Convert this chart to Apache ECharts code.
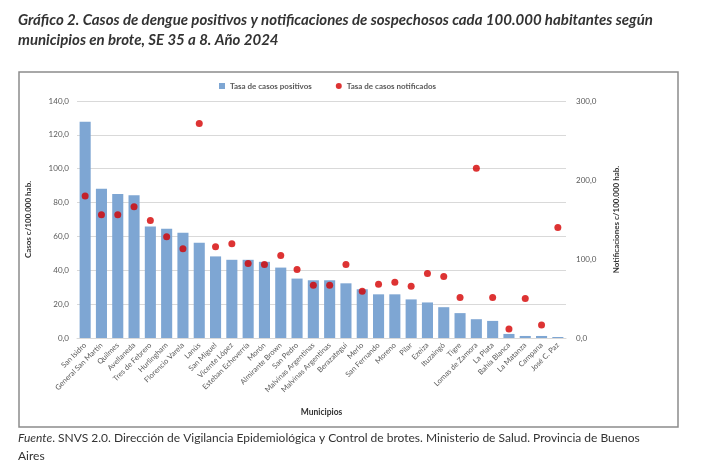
<!DOCTYPE html>
<html>
<head>
<meta charset="utf-8">
<script src="https://cdn.jsdelivr.net/npm/echarts@6/dist/echarts.min.js"></script>
<style>
html,body{margin:0;padding:0;background:#fff;}
#c{width:702px;height:471px;}
</style>
</head>
<body>
<div id="c"></div>
<script>
const municipios = ["San Isidro","General San Martín","Quilmes","Avellaneda","Tres de Febrero","Hurlingham","Florencio Varela","Lanús","San Miguel","Vicente López","Esteban Echeverría","Morón","Almirante Brown","San Pedro","Malvinas Argentinas","Malvinas Argentinas ","Berazategui","Merlo","San Fernando","Moreno","Pilar","Ezeiza","Ituzaingó","Tigre","Lomas de Zamora","La Plata","Bahía Blanca","La Matanza","Campana","José C. Paz"];
const tasaPositivos = [127.7,88.2,85.1,84.3,65.8,64.6,62.1,56.3,48.2,46.2,46.2,45.0,41.6,35.1,34.1,34.1,32.3,28.8,25.8,25.8,22.8,21.0,18.2,14.7,11.1,10.1,2.4,1.2,1.2,0.6];
const tasaNotificados = [179.8,156,156,166,148.7,128.3,113,271.6,115.6,119.4,94.3,93,104.5,86.7,66.7,66.7,93.1,59.1,68,70.5,65.4,81.6,77.8,51.4,215,51.4,11.5,50.1,16.6,139.8];
const leftTicks = {min:0,max:140,interval:20};
const rightTicks = {min:0,max:300,interval:100};

const FONT = "Lato, 'Open Sans', sans-serif";
const chart = echarts.init(document.getElementById('c'), null, {renderer:'canvas'});
const fmt = v => v.toFixed(1).replace('.', ',');
chart.setOption({
  animation:false,
  textStyle:{fontFamily:FONT},
  graphic:[
    {type:'rect',shape:{x:19,y:72,width:659,height:355},style:{fill:'none',stroke:'#8c8c8c',lineWidth:1.5},z:-1},
    {type:'text',left:18,top:13,style:{text:'Gráfico 2. Casos de dengue positivos y notificaciones de sospechosos cada 100.000 habitantes según',font:"italic bold 15px "+FONT,fill:'#333'}},
    {type:'text',left:18,top:33,style:{text:'municipios en brote, SE 35 a 8. Año 2024',font:"italic bold 15px "+FONT,fill:'#333'}},
    {type:'text',left:18,top:432,style:{
      rich:{i:{fontStyle:'italic',fontSize:12,fontFamily:FONT,fill:'#333'},n:{fontSize:12,fontFamily:FONT,fill:'#333'}},
      text:'{i|Fuente}{n|. SNVS 2.0. Dirección de Vigilancia Epidemiológica y Control de brotes. Ministerio de Salud. Provincia de Buenos}',fill:'#333'}},
    {type:'text',left:18,top:450,style:{text:'Aires',font:"12px "+FONT,fill:'#333'}}
  ],
  legend:{
    top:77,left:214,itemWidth:6,itemHeight:6,itemGap:24,
    textStyle:{fontSize:8,fontWeight:'bold',color:'#595959',fontFamily:FONT},
    data:[{name:'Tasa de casos positivos',icon:'rect'},{name:'Tasa de casos notificados',icon:'circle'}]
  },
  grid:{left:77,right:136,top:101,bottom:133},
  xAxis:{
    type:'category',data:municipios,
    axisTick:{show:false},
    axisLine:{lineStyle:{color:'#d9d9d9'}},
    axisLabel:{rotate:45,fontSize:7.5,color:'#595959',interval:0,margin:6,formatter:v=>v.trim()},
    name:'Municipios',nameLocation:'middle',nameGap:70,
    nameTextStyle:{fontSize:8.5,fontWeight:'bold',color:'#333'}
  },
  yAxis:[
    {type:'value',min:leftTicks.min,max:leftTicks.max,interval:leftTicks.interval,
     axisLabel:{formatter:fmt,fontSize:8,color:'#595959',margin:8},
     axisLine:{show:false},axisTick:{show:false},
     splitLine:{lineStyle:{color:'#d9d9d9'}},
     name:'Casos c/100.000 hab.',nameLocation:'middle',nameGap:45,nameRotate:90,
     nameTextStyle:{fontSize:8,fontWeight:'bold',color:'#333'}},
    {type:'value',min:rightTicks.min,max:rightTicks.max,interval:rightTicks.interval,
     axisLabel:{formatter:fmt,fontSize:8,color:'#595959',margin:10},
     axisLine:{show:false},axisTick:{show:false},splitLine:{show:false},
     name:'Notificaciones c/100.000 hab.',nameLocation:'middle',nameGap:46,nameRotate:90,
     nameTextStyle:{fontSize:8,fontWeight:'bold',color:'#333'}}
  ],
  series:[
    {name:'Tasa de casos positivos',type:'bar',data:tasaPositivos,yAxisIndex:0,
     barCategoryGap:'32%',itemStyle:{color:'#7ea6d3'}},
    {name:'Tasa de casos notificados',type:'scatter',data:tasaNotificados,yAxisIndex:1,
     symbolSize:7,itemStyle:{color:'#d40000'},z:5}
  ]
});
</script>
</body>
</html>
